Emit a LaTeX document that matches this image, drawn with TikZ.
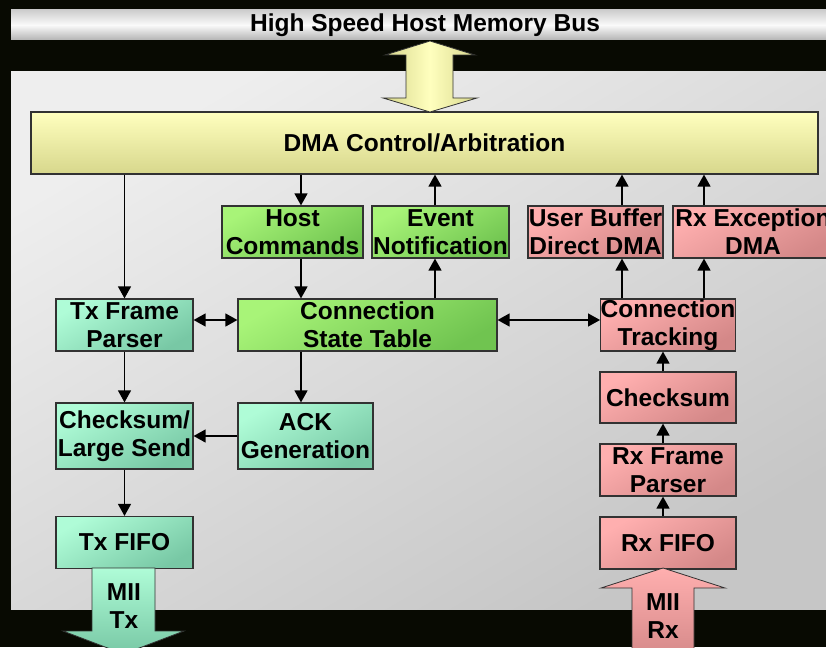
\documentclass[tikz,border=0pt]{standalone}
\usepackage{fontspec}
\setmainfont{Liberation Sans}
\usepackage{tikz}
\usetikzlibrary{positioning,arrows.meta}

\definecolor{bgdark}{RGB}{8,10,2}
\definecolor{boxline}{RGB}{50,50,50}
\definecolor{paneltop}{RGB}{238,238,238}
\definecolor{panelbot}{RGB}{198,198,198}
\definecolor{bartop}{RGB}{205,205,205}
\definecolor{barmid}{RGB}{250,250,250}
\definecolor{barbot}{RGB}{180,180,180}
\definecolor{yeltop}{RGB}{255,255,190}
\definecolor{yelbot}{RGB}{215,215,140}
\definecolor{grntop}{RGB}{168,244,120}
\definecolor{grnbot}{RGB}{112,196,80}
\definecolor{teltop}{RGB}{175,252,215}
\definecolor{telbot}{RGB}{120,200,165}
\definecolor{pnktop}{RGB}{255,175,175}
\definecolor{pnkbot}{RGB}{212,136,136}

\tikzset{
  box/.style={draw=boxline,line width=1.2pt,minimum height=52pt,inner sep=0pt,
    align=center,font=\bfseries\fontsize{24.5}{28}\selectfont},
  ybox/.style={box,top color=yeltop,bottom color=yelbot},
  gbox/.style={box,top color=grntop,bottom color=grnbot,shading angle=30},
  tbox/.style={box,top color=teltop,bottom color=telbot,shading angle=30},
  pbox/.style={box,top color=pnktop,bottom color=pnkbot,shading angle=30},
  link/.style={draw=black,line width=1.3pt,-{Triangle[width=13pt,length=12pt]}},
  dlink/.style={link,{Triangle[width=13pt,length=12pt]}-{Triangle[width=13pt,length=12pt]}},
  bigarrow/.style={draw=boxline,line width=0.8pt},
  label/.style={inner sep=0pt,align=center,font=\bfseries\fontsize{24.5}{28}\selectfont}
}

\begin{document}
\begin{tikzpicture}[x=1pt,y=-1pt]
\clip (0,0) rectangle (826,647);
\fill[bgdark] (0,0) rectangle (826,647);

\shade[top color=bartop,bottom color=barbot,middle color=barmid] (11,10) rectangle (830,40);
\node[label] (bus) at (425,25) {High Speed Host Memory Bus};
\shade[top color=paneltop,bottom color=panelbot,shading angle=30] (11,72) rectangle (830,609);

\coordinate (colA) at (301,0);
\coordinate (colB) at (435,0);
\coordinate (colC) at (622,0);
\coordinate (colD) at (704,0);
\coordinate (colE) at (663,0);
\coordinate (rowA) at (0,320);

\node[ybox,minimum width=787pt,minimum height=62pt] (dma) at (424.5,143) {DMA Control/Arbitration};
\node[gbox,minimum width=141pt] (host) at (292.5,232) {Host\\Commands};
\node[gbox,minimum width=137pt] (event) at (440.5,232) {Event\\Notification};
\node[pbox,minimum width=135pt] (ubuf) at (595.5,232) {User Buffer\\Direct DMA};
\node[pbox,minimum width=160pt] (rxexc) at (753,232) {Rx Exception\\DMA};
\node[tbox,minimum width=137pt] (txparse) at (124.5,325) {Tx Frame\\Parser};
\node[gbox,minimum width=259pt] (cst) at (367.5,325) {Connection\\State Table};
\node[pbox,minimum width=134pt] (track) at (668,325) {Connection\\Tracking};
\node[tbox,minimum width=137pt,minimum height=66pt] (txsum) at (124.5,436) {Checksum/\\Large Send};
\node[tbox,minimum width=135pt,minimum height=66pt] (ack) at (305.5,436) {ACK\\Generation};
\node[tbox,minimum width=137pt] (txfifo) at (124.5,542.5) {Tx FIFO};
\node[pbox,minimum width=136pt,minimum height=51pt] (rxsum) at (668,397.5) {Checksum};
\node[pbox,minimum width=136pt] (rxparse) at (668,470) {Rx Frame\\Parser};
\node[pbox,minimum width=136pt] (rxfifo) at (668,543) {Rx FIFO};

\shade[bigarrow,left color=yelbot,right color=yelbot,middle color=yeltop]
  (430,41) -- (475,55) -- (453,55) -- (453,98) -- (477,98) -- (430,112)
  -- (383,98) -- (406,98) -- (406,55) -- (385,55) -- cycle;

\shade[bigarrow,top color=teltop,bottom color=telbot]
  (92,568) -- (155,568) -- (155,631) -- (184,631) -- (123.5,654)
  -- (63,631) -- (92,631) -- cycle;
\node[label] (miitx) at (124,606) {MII\\Tx};

\shade[bigarrow,top color=pnktop,bottom color=pnkbot]
  (663,568) -- (725,588) -- (694,588) -- (694,660) -- (632,660)
  -- (632,588) -- (601,588) -- cycle;
\node[label] (miirx) at (663,616) {MII\\Rx};

\draw[link] (dma.south -| txparse) -- (txparse);
\draw[link] (dma.south -| colA) -- (host.north -| colA);
\draw[link] (host.south -| colA) -- (cst.north -| colA);
\draw[link] (cst.south -| colA) -- (ack.north -| colA);
\draw[link] (cst.north -| colB) -- (event.south -| colB);
\draw[link] (event.north -| colB) -- (dma.south -| colB);
\draw[link] (track.north -| colC) -- (ubuf.south -| colC);
\draw[link] (ubuf.north -| colC) -- (dma.south -| colC);
\draw[link] (track.north -| colD) -- (rxexc.south -| colD);
\draw[link] (rxexc.north -| colD) -- (dma.south -| colD);
\draw[dlink] (txparse.east |- rowA) -- (cst.west |- rowA);
\draw[dlink] (cst.east |- rowA) -- (track.west |- rowA);
\draw[link] (ack) -- (txsum);
\draw[link] (txparse) -- (txsum);
\draw[link] (txsum) -- (txfifo);
\draw[link] (rxfifo.north -| colE) -- (rxparse.south -| colE);
\draw[link] (rxparse.north -| colE) -- (rxsum.south -| colE);
\draw[link] (rxsum.north -| colE) -- (track.south -| colE);

\end{tikzpicture}
\end{document}
